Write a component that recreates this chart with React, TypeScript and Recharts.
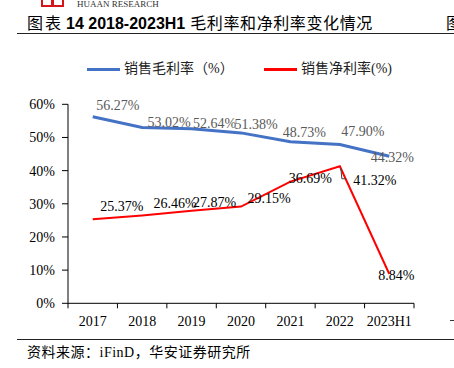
import { Legend, Line, LineChart, XAxis, YAxis } from 'recharts'

/* 2017 - 2023H1 gross / net margin, in % */
const YEARS = ['2017', '2018', '2019', '2020', '2021', '2022', '2023H1']
const GROSS = [56.27, 53.02, 52.64, 51.38, 48.73, 47.9, 44.32]
const NET = [25.37, 26.46, 27.87, 29.15, 36.69, 41.32, 8.84]
const Y_TICKS = [0, 10, 20, 30, 40, 50, 60]

const data = YEARS.map((year, i) => ({ year, gross: GROSS[i], net: NET[i] }))

const SERIF = '"Liberation Serif", "Noto Sans CJK SC", serif'
const BLUE = '#4472C4'
const RED = '#FF0000'

const W = 454
const H = 368
const PLOT_LEFT = 68
const PLOT_RIGHT = 414
const STEP = (PLOT_RIGHT - PLOT_LEFT) / YEARS.length
const TICK = 5

/* label offsets from each point (text centre), like the hand-placed labels in the source */
const GROSS_NUDGE: [number, number][] = [
  [25, -12], [27, -5], [23, -6], [15, -9], [14, -10], [23, -13], [3, 1],
]
const NET_NUDGE: [number, number][] = [
  [29, -13], [33, -13], [23, -9], [28, -9], [20, -4], [35, 14], [7, 1],
]

function makeLabel(nudge: [number, number][], fill: string, leaderIdx = -1) {
  return (p: any) => {
    const [dx, dy] = nudge[p.index] ?? [0, -10]
    return (
      <g key={`lbl-${fill}-${p.index}`}>
        {p.index === leaderIdx && (
          <polyline
            points={`${p.x + 1},${p.y + 2} ${p.x + 2},${p.y + 12.5} ${p.x + 6},${p.y + 12.5}`}
            fill="none"
            stroke="#404040"
            strokeWidth={1}
          />
        )}
        <text
          x={p.x + dx}
          y={p.y + dy + 5}
          textAnchor="middle"
          fill={fill}
          fontSize={14}
          fontFamily={SERIF}
        >
          {Number(p.value).toFixed(2)}%
        </text>
      </g>
    )
  }
}

function XTick(p: any) {
  const axisY = p.y - TICK
  const last = p.index === YEARS.length - 1
  return (
    <g>
      <line x1={p.x - STEP / 2} x2={p.x - STEP / 2} y1={axisY} y2={axisY + TICK} stroke="#000" />
      {last && (
        <line x1={p.x + STEP / 2} x2={p.x + STEP / 2} y1={axisY} y2={axisY + TICK} stroke="#000" />
      )}
      <text x={p.x} y={axisY + 23} textAnchor="middle" fill="#000" fontSize={14} fontFamily={SERIF}>
        {p.payload.value}
      </text>
    </g>
  )
}

function LegendBox() {
  const txt = { position: 'absolute', top: 0, fontSize: 14, fontFamily: SERIF, color: '#222', lineHeight: '20px', whiteSpace: 'nowrap' } as const
  return (
    <div style={{ position: 'relative', height: 20, width: W }}>
      <span style={{ position: 'absolute', left: 87, top: 8.5, width: 33, height: 3, background: BLUE }} />
      <span style={{ ...txt, left: 124 }}>销售毛利率（%）</span>
      <span style={{ position: 'absolute', left: 264, top: 8.5, width: 33, height: 3, background: RED }} />
      <span style={{ ...txt, left: 301 }}>销售净利率(%)</span>
    </div>
  )
}

export default function App() {
  return (
    <div style={{ position: 'absolute', left: 0, top: 0, width: W, height: H, background: '#fff', overflow: 'hidden' }}>
      {/* header: logo, title, rule */}
      <span style={{ position: 'absolute', left: 41, top: -2, width: 8, height: 5, border: '2px solid #d7141a' }} />
      <span style={{ position: 'absolute', left: 52, top: -2, width: 8, height: 5, border: '2px solid #d7141a' }} />
      <div style={{ position: 'absolute', left: 77, top: -1, fontSize: 9, fontFamily: SERIF, color: '#333', lineHeight: '10px' }}>
        HUAAN RESEARCH
      </div>
      <div style={{ position: 'absolute', left: 27, top: 12, fontSize: 16, lineHeight: '20px', whiteSpace: 'nowrap', color: '#000', fontFamily: '"Noto Sans CJK SC", sans-serif' }}>
        <span style={{ letterSpacing: 2 }}>图表</span>
        <b style={{ fontFamily: '"Liberation Sans", Arial, sans-serif', marginLeft: 3 }}>14 2018-2023H1</b>
        <span style={{ marginLeft: 5, letterSpacing: 0.6 }}>毛利率和净利率变化情况</span>
      </div>
      <div style={{ position: 'absolute', left: 446, top: 12, fontSize: 16, lineHeight: '20px', fontFamily: '"Noto Sans CJK SC", sans-serif' }}>图</div>
      <div style={{ position: 'absolute', left: 17, top: 33, width: W - 17, height: 1, background: '#222' }} />

      <div style={{ position: 'absolute', left: 0, top: 0 }}>
        <LineChart width={W} height={H} data={data} margin={{ top: 104.3, right: W - PLOT_RIGHT, bottom: 34.7, left: 0 }}>
          <Legend
            content={<LegendBox />}
            layout="horizontal"
            verticalAlign="middle"
            align="center"
            wrapperStyle={{ top: 59, left: 0, width: W }}
          />
          <XAxis
            dataKey="year"
            scale="point"
            padding={{ left: STEP / 2, right: STEP / 2 }}
            height={30}
            axisLine={{ stroke: '#000' }}
            tickLine={false}
            tickSize={TICK}
            tickMargin={0}
            tick={<XTick />}
            interval={0}
          />
          <YAxis
            domain={[0, 60]}
            ticks={Y_TICKS}
            width={PLOT_LEFT}
            axisLine={{ stroke: '#000' }}
            tickLine={{ stroke: '#000' }}
            tickSize={6}
            tickMargin={7}
            tickFormatter={(v) => `${v}%`}
            tick={{ fontSize: 14, fontFamily: SERIF, fill: '#000' }}
          />
          <Line
            dataKey="gross"
            stroke={BLUE}
            strokeWidth={3}
            dot={false}
            isAnimationActive={false}
            label={makeLabel(GROSS_NUDGE, '#595959')}
          />
          <Line
            dataKey="net"
            stroke={RED}
            strokeWidth={2}
            dot={false}
            isAnimationActive={false}
            label={makeLabel(NET_NUDGE, '#000', 5)}
          />
        </LineChart>
      </div>

      <span style={{ position: 'absolute', left: 450, top: 320, width: 4, height: 1, background: '#333' }} />

      {/* footer */}
      <div style={{ position: 'absolute', left: 17, top: 339, width: W - 17, height: 1, background: '#222' }} />
      <div style={{ position: 'absolute', left: 27, top: 343, fontSize: 14, lineHeight: '20px', letterSpacing: 0.5, whiteSpace: 'nowrap', color: '#000', fontFamily: SERIF }}>
        资料来源：iFinD，华安证券研究所
      </div>
    </div>
  )
}
